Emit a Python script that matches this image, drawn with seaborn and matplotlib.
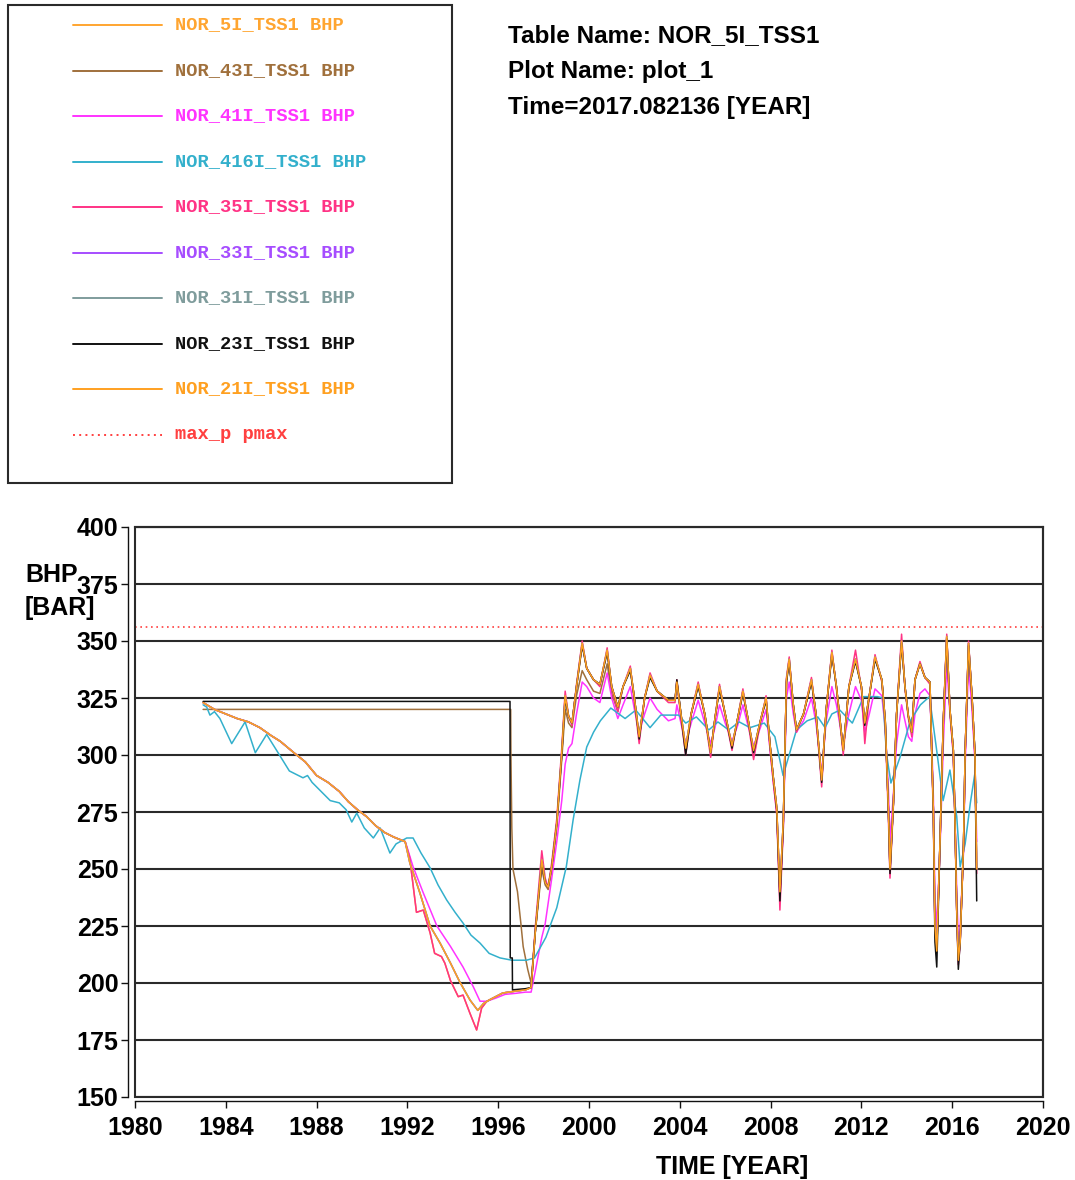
"""BHP des puits injecteurs NOR_*I_TSS1, 1983-2017, avec la limite max_p."""

import matplotlib
matplotlib.use("Agg")
import matplotlib.pyplot as plt
import seaborn as sns
from matplotlib import font_manager
from matplotlib.patches import Rectangle

# --- données -----------------------------------------------------------

# déclin commun 1983-1992 (toutes les courbes du faisceau)
years_early = [1983.0, 1983.5, 1984.0, 1984.5, 1985.0, 1985.5, 1986.0, 1986.4,
               1987.0, 1987.5, 1988.0, 1988.5, 1989.0, 1989.4, 1989.8, 1990.2,
               1990.6, 1991.0, 1991.4, 1991.9]
bhp_early = [323, 320, 318, 316, 314.5, 312, 308.5, 306,
             301, 297, 291, 288, 284, 279.5, 276, 273,
             269, 266, 264, 262]

# creux 1992-1997, branche basse (NOR_5I, NOR_35I)
years_dip_low = [1992.1, 1992.4, 1992.7, 1993.0, 1993.2, 1993.5, 1993.65, 1993.9,
                 1994.24, 1994.45, 1994.76, 1995.05, 1995.27, 1995.5, 1996.2,
                 1996.8, 1997.2]
bhp_dip_low = [255, 231, 232, 222, 213, 211.6, 208.7, 201,
               194, 194.7, 186.6, 179.4, 189, 192, 195.6,
               196.5, 197]

# creux 1992-1997, branche médiane (NOR_21I, NOR_33I, NOR_31I)
years_dip_mid = [1992.1, 1992.55, 1993.0, 1993.44, 1993.9, 1994.3, 1994.76,
                 1995.1, 1995.35, 1995.6, 1996.2, 1996.8, 1997.2]
bhp_dip_mid = [253, 239.5, 225, 217.5, 208.7, 200.6, 192.5,
               188, 191, 192.5, 195.6, 196.5, 197]

# creux 1992-1997, NOR_41I
years_dip_41i = [1991.97, 1992.25, 1992.7, 1993.3, 1993.9, 1994.45, 1994.9,
                 1995.2, 1995.5, 1995.9, 1996.3, 1996.8, 1997.2]
bhp_dip_41i = [260, 251, 239.5, 225, 216, 207, 198.4,
               192, 192, 193.4, 195, 195.5, 196]

# remontée et cycles 1997-2017
years_late = [
    1997.45, 1997.63, 1997.92, 1998.07, 1998.2, 1998.36, 1998.58, 1998.8, 1998.95,
    1999.1, 1999.25, 1999.45, 1999.7,
    1999.9, 2000.2, 2000.48, 2000.8, 2001.0, 2001.27, 2001.5, 2001.82, 2002.0,
    2002.21, 2002.45, 2002.69,
    2003.0, 2003.5, 2003.79, 2003.87, 2004.05, 2004.26, 2004.5, 2004.81, 2005.1,
    2005.36, 2005.55, 2005.75,
    2006.0, 2006.3, 2006.55, 2006.78, 2007.0, 2007.25, 2007.55, 2007.8, 2007.97,
    2008.12, 2008.27, 2008.41, 2008.56, 2008.7, 2008.82,
    2009.0, 2009.14, 2009.45, 2009.8, 2010.0, 2010.25, 2010.45, 2010.7, 2010.9,
    2011.2, 2011.45, 2011.74,
    2012.0, 2012.15, 2012.35, 2012.6, 2012.9, 2013.05, 2013.19, 2013.26, 2013.41,
    2013.55, 2013.77, 2013.92,
    2014.07, 2014.22, 2014.36, 2014.58, 2014.8, 2015.02, 2015.1, 2015.17, 2015.24,
    2015.32, 2015.46, 2015.61, 2015.76, 2015.9,
    2016.05, 2016.12, 2016.2, 2016.27, 2016.35, 2016.5, 2016.57, 2016.72, 2016.87,
    2017.0, 2017.08,
]
bhp_5i_late = [
    198, 222, 254, 244, 242, 251, 270, 301, 326,
    317, 314, 330, 349,
    338, 333, 331, 346, 330, 321, 330, 338, 325,
    308, 325, 335,
    328, 324, 324, 332, 318, 303, 318, 331, 318,
    301, 316, 330,
    318, 304, 316, 328, 316, 302, 315, 325, 305,
    290, 277, 240, 271, 333, 342,
    322, 311, 318, 333, 318, 289, 320, 345, 330,
    302, 330, 342,
    330, 314, 326, 343, 333, 315, 276, 250, 279,
    318, 350, 330,
    317, 310, 333, 340, 334, 332, 301, 276, 225,
    214, 261, 315, 352, 320,
    302, 273, 232, 210, 218, 261, 301, 349, 326,
    301, 250,
]
bhp_35i_late = [
    198, 224, 258, 246, 242, 253, 272, 303, 328,
    317, 313, 331, 350,
    338, 333, 330, 347, 329, 319, 330, 339, 323,
    305, 325, 336,
    328, 323, 323, 333, 316, 300, 318, 332, 317,
    299, 316, 331,
    317, 302, 316, 329, 315, 298, 314, 326, 303,
    288, 274, 232, 268, 334, 343,
    321, 310, 318, 334, 317, 286, 320, 346, 329,
    300, 330, 346,
    329, 305, 326, 344, 332, 313, 272, 246, 278,
    318, 353, 329,
    316, 308, 333, 341, 334, 331, 299, 272, 222,
    216, 260, 316, 353, 319,
    300, 270, 230, 208, 217, 260, 301, 350, 325,
    299, 248,
]
bhp_23i_late = [
    198, 222, 253, 244, 242, 251, 270, 300, 325,
    317, 314, 330, 348,
    338, 333, 331, 345, 330, 321, 330, 337, 325,
    307, 325, 334,
    328, 324, 324, 333, 318, 300, 318, 330, 318,
    301, 316, 329,
    318, 303, 316, 327, 316, 301, 315, 324, 305,
    290, 276, 236, 270, 332, 341,
    322, 311, 318, 332, 318, 288, 320, 344, 330,
    302, 330, 341,
    330, 313, 326, 342, 333, 315, 276, 248, 279,
    318, 349, 330,
    317, 310, 333, 340, 334, 332, 301, 276, 218,
    207, 261, 315, 351, 320,
    302, 273, 232, 206, 218, 261, 301, 348, 326,
    301, 236,
]
bhp_41i_late = [
    196, 205, 220, 226, 235, 246, 262, 280, 296,
    303, 305, 318, 332,
    330, 325, 323, 336, 325, 316, 322, 330, 320,
    310, 318, 325,
    320, 315, 316, 322, 314, 305, 314, 324, 314,
    305, 312, 322,
    314, 306, 313, 322, 313, 304, 312, 320, 303,
    288, 275, 238, 268, 325, 332,
    318, 310, 315, 325, 314, 292, 315, 330, 322,
    305, 318, 330,
    324, 310, 318, 329, 326, 312, 285, 262, 283,
    305, 322, 315,
    308, 306, 318, 327, 329, 326, 305, 282, 238,
    224, 258, 305, 340, 318,
    300, 275, 240, 218, 224, 258, 295, 340, 320,
    298, 262,
]

# NOR_43I : fermé à 320 jusqu'en 1996.5
years_43i = [1983.0, 1996.55, 1996.56, 1996.6, 1996.65, 1996.85, 1997.0, 1997.1,
             1997.3, 1997.45, 1997.63, 1997.92, 1998.07, 1998.2, 1998.36, 1998.58,
             1998.8, 1998.95, 1999.1, 1999.25, 1999.45, 1999.7, 1999.9, 2000.2,
             2000.48, 2000.8, 2001.0, 2001.27]
bhp_43i = [320, 320, 301, 268, 250, 240, 226, 216,
           206, 200, 222, 250, 243, 241, 249, 268,
           298, 320, 314, 312, 326, 337, 333, 328,
           327, 340, 327, 319]

# NOR_23I : fermé à 323.5 jusqu'en 1996.5
years_23i_shut = [1983.0, 1996.52, 1996.53, 1996.62, 1996.63, 1997.2]
bhp_23i_shut = [323.5, 323.5, 211, 211, 197, 197.5]

# NOR_416I
years_416i = [
    1983.0, 1983.16, 1983.3, 1983.5, 1983.74, 1984.26, 1984.85, 1985.3, 1985.8,
    1986.24, 1986.8, 1987.4, 1987.6, 1987.8, 1988.2, 1988.6, 1989.0, 1989.3,
    1989.55, 1989.77, 1990.1, 1990.5, 1990.8, 1991.23, 1991.5, 1991.97, 1992.25,
    1992.6, 1993.0, 1993.35, 1993.73, 1994.1, 1994.45, 1994.8, 1995.2, 1995.6,
    1996.08, 1996.6, 1997.25, 1997.6, 1998.1, 1998.58, 1999.0, 1999.3, 1999.6,
    1999.9, 2000.2, 2000.5, 2000.96, 2001.59, 2002.06, 2002.69, 2003.16, 2003.95,
    2004.26, 2004.73, 2005.28, 2005.68, 2006.15, 2006.62, 2007.09, 2007.72,
    2008.19, 2008.55, 2008.67, 2009.14, 2009.61, 2010.08, 2010.4, 2010.7, 2011.05,
    2011.6, 2012.1, 2012.7, 2012.95, 2013.1, 2013.3, 2013.7, 2014.15, 2014.6,
    2015.0, 2015.33, 2015.6, 2015.9, 2016.2, 2016.35, 2016.57, 2016.8, 2017.0,
    2017.08,
]
bhp_416i = [
    322, 321, 317.5, 319, 316, 305, 314.5, 301, 309,
    302, 293, 290, 291, 288, 284, 280, 279, 276,
    270.6, 274.5, 268, 263.6, 268, 257, 261, 263.6, 263.6,
    257, 250.5, 243, 236.4, 231, 226.3, 221, 217.5, 213,
    211, 210, 210, 211, 220, 233, 251, 271.5, 289,
    303.5, 310, 315, 320.6, 316, 319.7, 312, 317.5, 317.5,
    314, 316.7, 311, 314.5, 311, 314.5, 312, 314,
    308, 291, 295, 311, 315, 316.7, 312, 318, 319.7,
    314, 325.6, 325.6, 325, 301, 287.7, 299, 315, 322,
    325.6, 301, 280, 293.4, 273, 251, 261, 279, 292,
    279,
]

# limite de pression
max_p = 356

wells = ["NOR_5I_TSS1", "NOR_43I_TSS1", "NOR_41I_TSS1", "NOR_416I_TSS1",
         "NOR_35I_TSS1", "NOR_33I_TSS1", "NOR_31I_TSS1", "NOR_23I_TSS1",
         "NOR_21I_TSS1"]
colors = ["#ffa530", "#a0703c", "#ff33ff", "#33b0cc", "#ff3385",
          "#a64dff", "#7f9c9c", "#111111", "#ffa020"]
maxp_color = "#ff4040"

# assemblage des séries (segments lus séparément)
series = {
    "NOR_5I_TSS1": (years_early + years_dip_low + years_late,
                    bhp_early + bhp_dip_low + bhp_5i_late),
    "NOR_43I_TSS1": (years_43i + years_late[19:],
                     bhp_43i + bhp_5i_late[19:]),
    "NOR_41I_TSS1": (years_early + years_dip_41i + years_late,
                     bhp_early + bhp_dip_41i + bhp_41i_late),
    "NOR_416I_TSS1": (years_416i, bhp_416i),
    "NOR_35I_TSS1": (years_early + years_dip_low + years_late,
                     bhp_early + bhp_dip_low + bhp_35i_late),
    "NOR_33I_TSS1": (years_early + years_dip_mid + years_late,
                     bhp_early + bhp_dip_mid + bhp_5i_late),
    "NOR_31I_TSS1": (years_early + years_dip_mid + years_late,
                     bhp_early + bhp_dip_mid + bhp_5i_late),
    "NOR_23I_TSS1": (years_23i_shut + years_late,
                     bhp_23i_shut + bhp_23i_late),
    "NOR_21I_TSS1": (years_early + years_dip_mid + years_late,
                     bhp_early + bhp_dip_mid + bhp_5i_late),
}


def choisir_police(candidats):
    """Renvoie la première police installée de la liste."""
    noms = {f.name for f in font_manager.fontManager.ttflist}
    for nom in candidats:
        if nom in noms:
            return nom
    return "DejaVu Sans"


sns.set_theme(style="white")
sans = choisir_police(["Liberation Sans", "Arial", "DejaVu Sans"])
mono = choisir_police(["Liberation Mono", "DejaVu Sans Mono"])
plt.rcParams["font.family"] = [sans, "DejaVu Sans"]
plt.rcParams["text.color"] = "black"
plt.rcParams["xtick.color"] = "black"
plt.rcParams["ytick.color"] = "black"

fig = plt.figure(figsize=(10.75, 11.8), dpi=100)
W, H = 1075, 1180
ax = fig.add_axes([135 / W, 1 - 1097 / H, 908 / W, 570 / H])

lw = 1.1
for nom, couleur in zip(wells, colors):
    x, y = series[nom]
    sns.lineplot(x=x, y=y, ax=ax, color=couleur, linewidth=lw,
                 estimator=None, sort=False)
ax.axhline(max_p, color=maxp_color, linewidth=1.2, linestyle=(0, (1, 2.2)))

ax.set_xlim(1980, 2020)
ax.set_ylim(150, 400)
ax.set_xticks(range(1980, 2021, 4))
ax.set_yticks(range(150, 401, 25))
ax.set_xlabel("")
ax.set_ylabel("")
ax.yaxis.grid(True, color="#2a2a2a", linewidth=1.5)
ax.xaxis.grid(False)
ax.set_axisbelow(True)

for cote in ["top", "right"]:
    ax.spines[cote].set_color("#2a2a2a")
    ax.spines[cote].set_linewidth(1.5)
ax.spines["left"].set_position(("outward", 5))
ax.spines["bottom"].set_position(("outward", 3))
for cote in ["left", "bottom"]:
    ax.spines[cote].set_color("#111111")
    ax.spines[cote].set_linewidth(1.0)
ax.add_patch(Rectangle((0, 0), 1, 1, transform=ax.transAxes, fill=False,
                       edgecolor="#2a2a2a", linewidth=1.5, clip_on=False,
                       zorder=5))
ax.tick_params(axis="both", direction="out", length=5, width=1.0,
               color="#111111", labelcolor="black", labelsize=18,
               left=True, bottom=True)
ax.tick_params(axis="x", pad=6)
ax.tick_params(axis="y", pad=2)
for lab in ax.get_xticklabels() + ax.get_yticklabels():
    lab.set_fontweight("bold")

fig.text(25 / W, 1 - 582 / H, "BHP", fontsize=18, fontweight="bold",
         ha="left", va="baseline")
fig.text(25 / W, 1 - 615 / H, "[BAR]", fontsize=18, fontweight="bold",
         ha="left", va="baseline")
fig.text(732 / W, 1 - 1174 / H, "TIME [YEAR]", fontsize=18, fontweight="bold",
         ha="center", va="baseline")

# en-tête
entete = ["Table Name: NOR_5I_TSS1", "Plot Name: plot_1",
          "Time=2017.082136 [YEAR]"]
for i, ligne in enumerate(entete):
    fig.text(508 / W, 1 - (42 + 36 * i) / H, ligne, fontsize=17.5,
             fontweight="bold", ha="left", va="baseline")

# légende dessinée à la main, comme dans l'original
lax = fig.add_axes([0, 0, 1, 1], zorder=10)
lax.set_xlim(0, W)
lax.set_ylim(H, 0)
lax.axis("off")
lax.add_patch(Rectangle((8, 5), 444, 478, fill=False, edgecolor="#2a2a2a",
                        linewidth=1.5))
etiquettes = [nom + " BHP" for nom in wells] + ["max_p pmax"]
couleurs_leg = colors + [maxp_color]
for i, (txt, c) in enumerate(zip(etiquettes, couleurs_leg)):
    yl = 25 + i * 45.5
    style = (0, (1, 2.2)) if i == len(wells) else "-"
    lax.plot([73, 162], [yl, yl], color=c, linewidth=1.4, linestyle=style)
    lax.text(175, yl, txt, color=c, fontsize=13.5, fontweight="bold",
             family=[mono, "DejaVu Sans Mono"], ha="left", va="center")

fig.savefig("out.png", dpi=100)
